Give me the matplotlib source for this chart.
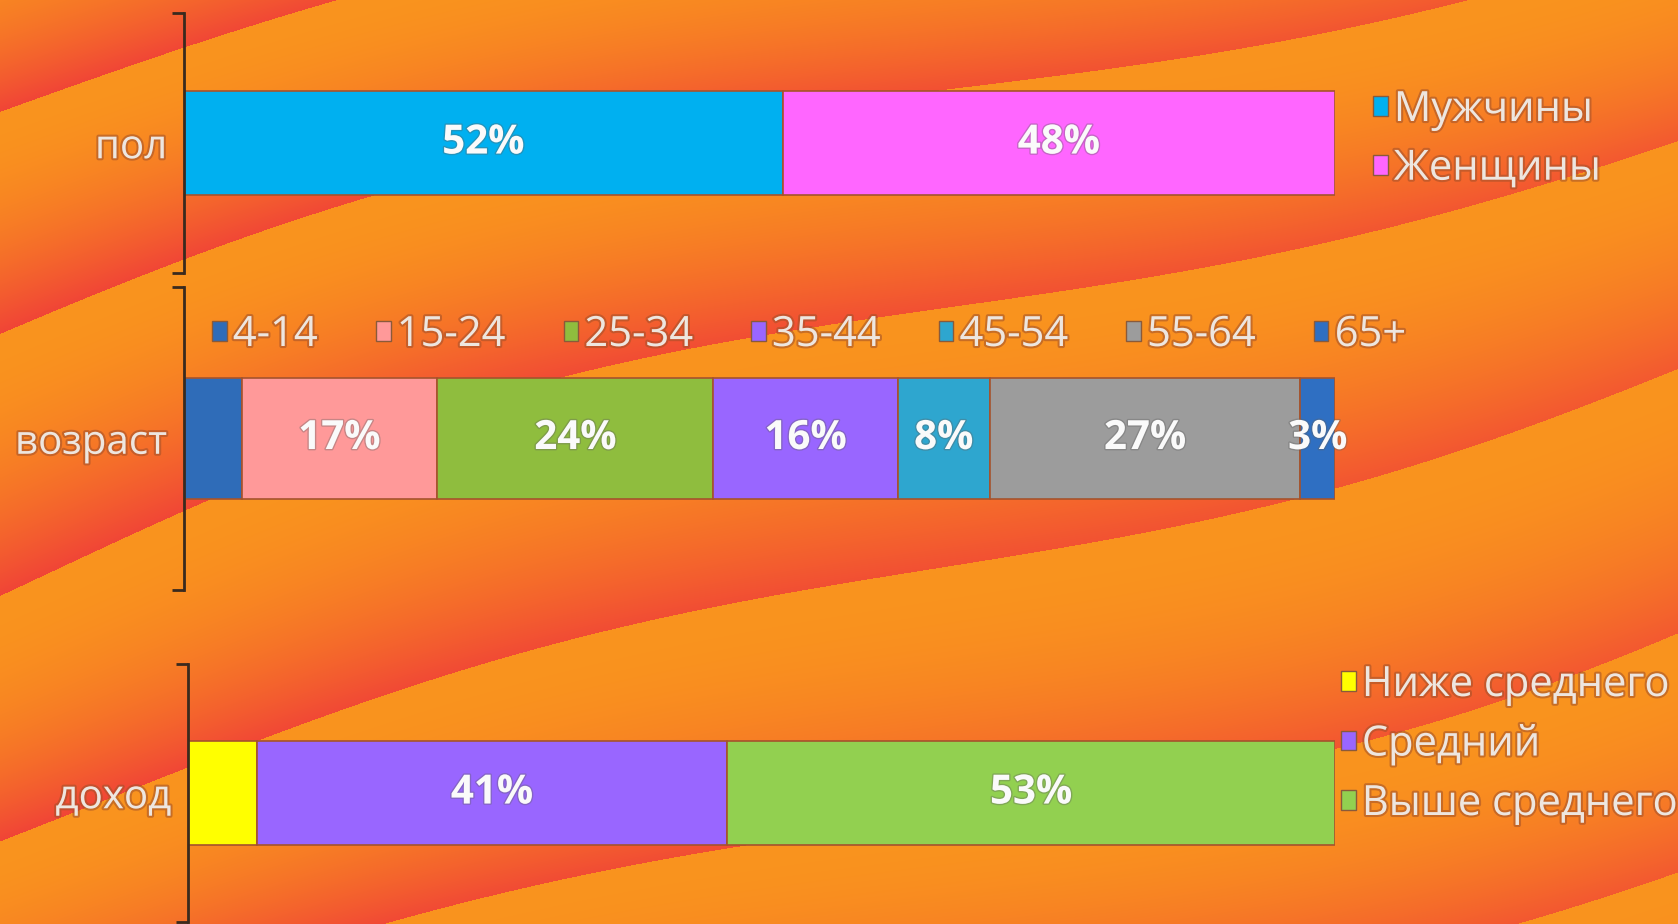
import matplotlib
matplotlib.use("Agg")
import matplotlib.pyplot as plt
import matplotlib.patheffects as pe
from matplotlib.patches import Patch
import numpy as np

plt.rcParams['font.family'] = ['Open Sans', 'DejaVu Sans']

# data
sex_labels = ['Мужчины', 'Женщины']
sex_values = [52, 48]
sex_colors = ['#00b0f0', '#ff66ff']

age_labels = ['4-14', '15-24', '25-34', '35-44', '45-54', '55-64', '65+']
age_values = [5, 17, 24, 16, 8, 27, 3]
age_colors = ['#2f6cb8', '#ff9999', '#8fbd3e', '#9966ff', '#2ea6cf', '#9c9c9c', '#2f6fc2']
age_show = [False, True, True, True, True, True, True]

inc_labels = ['Ниже среднего', 'Средний', 'Выше среднего']
inc_values = [6, 41, 53]
inc_colors = ['#ffff00', '#9966ff', '#92d050']
inc_show = [False, True, True]

cat_names = ['пол', 'возраст', 'доход']

W, H = 1678, 924
fig = plt.figure(figsize=(W / 100, H / 100), dpi=100)

# striped orange background (decoration only)
yy, xx = np.mgrid[0:H, 0:W].astype(float)
u = yy + 0.27 * xx + 40 * np.sin(xx / 300.0) + 25 * np.sin(yy / 170.0)
t = (u / 230.0 + 0.45) % 1.0
orange = np.array([250, 148, 30]) / 255.0
red = np.array([240, 64, 56]) / 255.0
k = (t ** 2.0) * (0.95 - 0.25 * xx / W)
img = orange * (1 - k[..., None]) + red * k[..., None]
bg = fig.add_axes([0, 0, 1, 1], zorder=-10)
bg.imshow(img, aspect='auto', interpolation='bilinear')
bg.axis('off')

txt_fx = [pe.withStroke(linewidth=3, foreground='#a0502a', alpha=0.55)]
val_fx = [pe.withStroke(linewidth=2, foreground='#606060', alpha=0.35)]
txt_color = '#eee6df'


def make_axes(rect, name):
    ax = fig.add_axes(rect)
    ax.patch.set_alpha(0)
    ax.set_xlim(0, 100)
    ax.set_ylim(-0.5, 0.5)
    for s in ['top', 'right', 'bottom']:
        ax.spines[s].set_visible(False)
    ax.spines['left'].set_color('#3a2a1e')
    ax.spines['left'].set_linewidth(2)
    ax.set_xticks([])
    ax.set_yticks([0])
    ax.set_yticklabels([name], fontsize=29, color=txt_color)
    for lab in ax.get_yticklabels():
        lab.set_path_effects(txt_fx)
    ax.tick_params(axis='y', which='major', length=0, pad=12)
    ax.set_yticks([-0.5, 0.5], minor=True)
    ax.tick_params(axis='y', which='minor', length=9, width=2,
                   direction='out', color='#3a2a1e')
    return ax


def stack(ax, values, colors, show):
    left = 0
    for v, c, s in zip(values, colors, show):
        ax.barh(0, v, left=left, height=0.4, color=c,
                edgecolor='#a5532d', linewidth=1.2)
        if s:
            ax.text(left + v / 2, 0, f'{v}%', ha='center', va='center',
                    fontsize=29, fontweight='bold', color='#fafafa',
                    path_effects=val_fx)
        left += v


def add_legend(ax, labels, colors, anchor, ncol=1, **kw):
    handles = [Patch(facecolor=c, edgecolor='#8a5a3a', linewidth=1) for c in colors]
    leg = ax.legend(handles, labels, loc='upper left', ncol=ncol,
                    bbox_to_anchor=(anchor[0] / W, 1 - anchor[1] / H),
                    bbox_transform=fig.transFigure, frameon=False,
                    fontsize=30, handlelength=0.35, handleheight=0.35,
                    handletextpad=0.15, borderpad=0, borderaxespad=0, **kw)
    for tx in leg.get_texts():
        tx.set_color(txt_color)
        tx.set_path_effects(txt_fx)
    return leg


ax1 = make_axes([184 / W, 1 - 273 / H, 1151 / W, 260 / H], cat_names[0])
stack(ax1, sex_values, sex_colors, [True, True])
add_legend(ax1, sex_labels, sex_colors, (1373, 89), labelspacing=0.4)

ax2 = make_axes([184 / W, 1 - 590 / H, 1151 / W, 303 / H], cat_names[1])
stack(ax2, age_values, age_colors, age_show)
add_legend(ax2, age_labels, age_colors, (212, 314), ncol=7, columnspacing=1.4)

ax3 = make_axes([188 / W, 1 - 922 / H, 1147 / W, 258 / H], cat_names[2])
stack(ax3, inc_values, inc_colors, inc_show)
add_legend(ax3, inc_labels, inc_colors, (1341, 664), labelspacing=0.42)

fig.savefig('out.png', dpi=100)
